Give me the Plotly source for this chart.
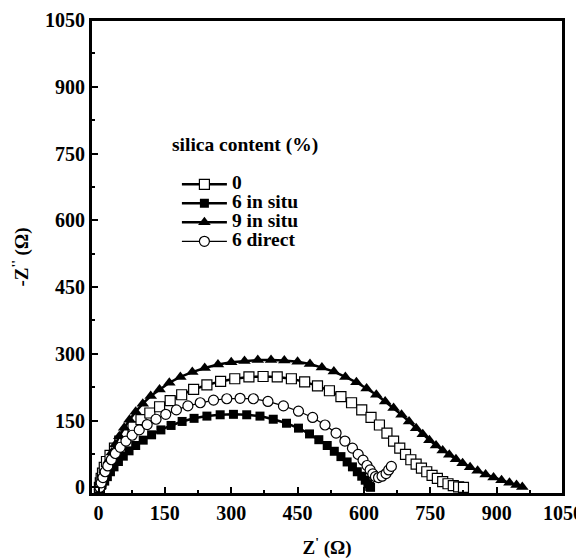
import plotly.graph_objects as go

# Series: silica 0 % (open squares)
z0 = [2, 4, 6, 9, 13, 18, 26, 36, 48, 62, 78, 96, 116, 138, 162, 188, 215, 245, 276, 308, 340, 372, 404, 436, 466, 495, 522, 548, 572, 595, 616, 635, 652, 667, 681, 694, 706, 718, 730, 742, 754, 766, 778, 790, 802, 814, 825]
y0 = [0, 10, 20, 32, 45, 58, 72, 88, 104, 120, 136, 152, 167, 181, 195, 208, 220, 230, 238, 244, 248, 249, 248, 244, 237, 228, 217, 204, 190, 174, 157, 140, 122, 104, 88, 74, 62, 52, 43, 35, 27, 20, 13, 8, 4, 1, 0]

# Series: 6 in situ (filled squares)
z6 = [3, 8, 14, 20, 27, 35, 45, 56, 69, 84, 101, 120, 141, 164, 189, 216, 245, 275, 305, 335, 365, 395, 425, 452, 477, 498, 517, 533, 548, 562, 574, 585, 595, 603, 609, 613, 615]
y6 = [0, 6, 14, 24, 35, 46, 58, 70, 82, 94, 106, 118, 129, 139, 148, 155, 160, 163, 164, 163, 160, 153, 144, 133, 120, 107, 94, 81, 69, 57, 46, 35, 25, 16, 8, 2, 0]

# Series: 9 in situ (filled triangles)
z9 = [3, 5, 8, 12, 17, 23, 30, 38, 47, 58, 70, 84, 100, 118, 138, 160, 185, 212, 240, 270, 300, 330, 360, 390, 420, 450, 478, 505, 532, 558, 583, 606, 628, 648, 667, 685, 702, 718, 733, 748, 763, 778, 793, 808, 823, 840, 857, 875, 893, 911, 929, 945, 958]
y9 = [0, 8, 18, 30, 44, 60, 78, 96, 115, 134, 152, 170, 188, 205, 220, 235, 248, 259, 268, 276, 281, 284, 286, 286, 285, 282, 277, 269, 260, 248, 236, 222, 208, 193, 178, 163, 148, 133, 119, 106, 94, 83, 73, 63, 54, 45, 37, 29, 22, 16, 10, 5, 1]

# Series: 6 direct (open circles)
zd = [3, 6, 10, 15, 21, 29, 38, 49, 62, 76, 92, 110, 130, 152, 176, 202, 230, 260, 290, 320, 350, 383, 418, 452, 484, 512, 537, 557, 574, 587, 598, 607, 614, 620, 626, 633, 641, 650, 656, 662]
yd = [0, 10, 22, 35, 48, 62, 76, 90, 104, 117, 129, 141, 153, 164, 174, 183, 190, 196, 199, 200, 199, 193, 183, 171, 157, 140, 122, 104, 88, 74, 61, 49, 39, 30, 24, 22, 25, 31, 39, 47]

names = ["0", "6 in situ", "9 in situ", "6 direct"]
legend_title = "silica content (%)"
tick_vals = [0, 150, 300, 450, 600, 750, 900, 1050]

FONT = "Liberation Serif, Times New Roman, serif"
TXT = 19.5
TICK = 20


def lname(s):
    return '<span style="font-size:%spx">%s</span>' % (TXT, s)


fig = go.Figure()
fig.add_trace(go.Scatter(x=z0, y=y0, name=lname(names[0]), mode="lines+markers",
                         line=dict(color="black", width=2.5),
                         marker=dict(symbol="square", size=10, color="white",
                                     line=dict(color="black", width=1.2))))
fig.add_trace(go.Scatter(x=z6, y=y6, name=lname(names[1]), mode="lines+markers",
                         line=dict(color="black", width=2.5),
                         marker=dict(symbol="square", size=9, color="black")))
fig.add_trace(go.Scatter(x=z9, y=y9, name=lname(names[2]), mode="lines+markers",
                         line=dict(color="black", width=2.5),
                         marker=dict(symbol="triangle-up", size=11, color="black")))
fig.add_trace(go.Scatter(x=zd, y=yd, name=lname(names[3]), mode="lines+markers",
                         line=dict(color="black", width=1.2),
                         marker=dict(symbol="circle", size=10, color="white",
                                     line=dict(color="black", width=1.2))))

axis_common = dict(
    showline=True, linecolor="black", linewidth=2, mirror=True,
    ticks="inside", ticklen=7, tickwidth=1.5, tickcolor="black",
    tickvals=tick_vals, showgrid=False, zeroline=False, automargin=False,
    ticklabeloverflow="allow",
    tickfont=dict(family=FONT, size=TICK, color="black", weight="bold"),
    minor=dict(ticks="inside", ticklen=4, tickwidth=1.5, tickcolor="black", dtick=75, tick0=0, showgrid=False),
)

# The page body has an 8px margin, so the figure is sized/offset to compensate.
fig.update_layout(
    width=576, height=551,
    margin=dict(l=83, r=21, t=12, b=65),
    paper_bgcolor="white", plot_bgcolor="white",
    xaxis=dict(range=[-17, 1050], title=dict(text="Z<sup>'</sup> (Ω)", standoff=28,
               font=dict(family=FONT, size=19, color="black", weight="bold")), **axis_common),
    yaxis=dict(range=[-15, 1050], title=dict(text="-Z<sup>''</sup> (Ω)", standoff=16,
               font=dict(family=FONT, size=19, color="black", weight="bold")), **axis_common),
    legend=dict(x=0.182, y=0.684, xanchor="left", yanchor="top",
                bgcolor="rgba(0,0,0,0)", itemwidth=45,
                font=dict(family=FONT, size=11, color="black", weight="bold")),
    annotations=[dict(text=legend_title, x=0.168, y=0.736, xref="paper", yref="paper",
                      xanchor="left", yanchor="middle", showarrow=False,
                      font=dict(family=FONT, size=TXT, color="black", weight="bold"))],
    shapes=[dict(type="rect", xref="paper", yref="paper", x0=0, x1=1, y0=0, y1=1,
                 line=dict(color="black", width=2), layer="above")],
)

fig.write_html("out.html")
